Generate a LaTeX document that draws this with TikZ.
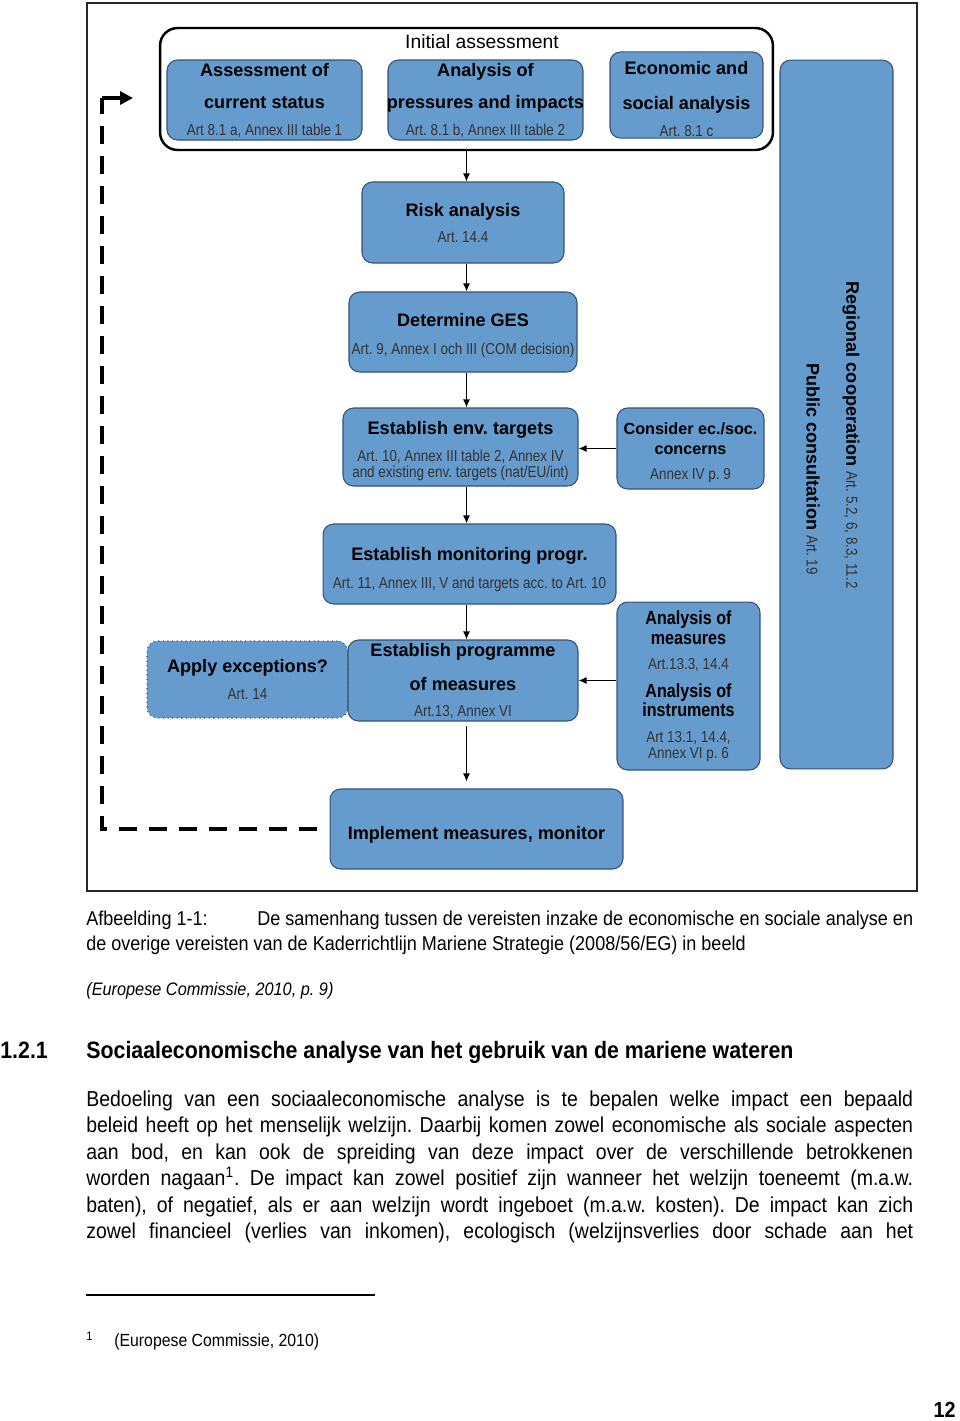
\documentclass[tikz,border=0pt]{standalone}
\usepackage{fontspec}
\setmainfont{Liberation Sans}
\newfontfamily\narrowfont[FakeStretch=0.85]{Liberation Sans}
\newfontfamily\docfont[FakeStretch=0.9]{Liberation Sans}
\usepackage{tikz}
\usetikzlibrary{positioning,arrows.meta}
\definecolor{boxblue}{RGB}{102,155,205}
\definecolor{boxline}{RGB}{52,82,120}
\frenchspacing
\setlength{\parindent}{0pt}
\newcommand{\ttl}{\fontsize{10.3}{12.5}\selectfont\bfseries}
\newcommand{\stl}{\fontsize{9.2}{12.5}\selectfont\bfseries}
\newcommand{\ntl}{\narrowfont\fontsize{10.8}{12.5}\selectfont\bfseries}
\newcommand{\artf}{\narrowfont\fontsize{9}{10}\selectfont\mdseries\color{black!80}}
\newcommand{\lowr}[1]{\rule{0pt}{#1}}

\begin{document}
\begin{tikzpicture}[x=0.02cm, y=-0.02cm,
    bx/.style={draw=boxline, fill=boxblue, rounded corners=6pt, line width=0.6pt,
               align=center, inner xsep=0pt, inner ysep=1pt, font=\ttl},
    grp/.style={draw, rounded corners=10pt, line width=1.4pt},
    ar/.style={-{Latex[length=1.6mm,width=1.4mm]}, line width=0.7pt},
    fb/.style={line width=2.2pt, dash pattern=on 0.36cm off 0.24cm},
    fbhead/.style={line width=2.2pt, -{Triangle[length=0.26cm,width=0.26cm]}},
    doc/.style={inner sep=0pt},
]
\useasboundingbox (0,0) rectangle (960,1421);
\fill[white] (0,0) rectangle (960,1421);

% --- frame ---
\draw[line width=0.8pt, black!85] (87,3) rectangle (917,891);

% === Initial assessment ===
\node[grp, minimum width=12.26cm, minimum height=2.44cm] (ia) at (466.5,89) {};
\node[font=\fontsize{11}{13}\selectfont] (iat) at (482,42) {Initial assessment};
\node[bx, minimum width=3.9cm, minimum height=1.6cm] (cur) at (264.5,100)
  {Assessment of\\[5.7pt]current status\\[2.9pt]{\artf Art 8.1 a, Annex III table 1}};
\node[bx, minimum width=3.9cm, minimum height=1.6cm] (prs) at (485.5,100)
  {Analysis of\\[5.7pt]\makebox[3.8cm]{pressures and impacts}\\[2.9pt]{\artf Art. 8.1 b, Annex III table 2}};
\node[bx, minimum width=3.06cm, minimum height=1.68cm] (eco) at (686.5,95)
  {\lowr{12.1pt}Economic and\\[6.9pt]social analysis\\[2.9pt]{\artf Art. 8.1 c}};

% === Side column ===
\node[bx, minimum width=2.26cm, minimum height=14.18cm] (reg) at (836.5,414.5) {};
\node[rotate=-90, font=\ttl] (regt) at (851,435) {Regional cooperation {\artf Art. 5.2, 6, 8.3, 11.2}};
\node[rotate=-90, font=\ttl] (pubt) at (813,469) {Public consultation {\artf Art. 19}};

% === Main chain ===
\node[bx, minimum width=4.04cm, minimum height=1.62cm] (risk) at (463,222.5)
  {Risk analysis\\[2.3pt]{\artf Art. 14.4}};
\node[bx, minimum width=4.56cm, minimum height=1.6cm] (ges) at (463,332)
  {\lowr{11.5pt}Determine GES\\[2.9pt]{\artf Art. 9, Annex I och III (COM decision)}};
\node[bx, minimum width=4.7cm, minimum height=1.56cm] (env) at (460.5,447)
  {\lowr{12.6pt}Establish env. targets\\[2.9pt]{\artf Art. 10, Annex III table 2, Annex IV}\\[-3.4pt]{\artf and existing env. targets (nat/EU/int)}};
\node[bx, minimum width=2.94cm, minimum height=1.62cm] (cons) at (690.5,448.5)
  {{\stl\lowr{11.3pt}Consider ec./soc.}\\[-1.1pt]{\stl concerns}\\[1.7pt]{\artf Annex IV p. 9}};
\node[bx, minimum width=5.86cm, minimum height=1.6cm] (mon) at (469.5,564)
  {\lowr{13.8pt}Establish monitoring progr.\\[2.9pt]{\artf Art. 11, Annex III, V and targets acc. to Art. 10}};
\node[bx, dotted, minimum width=4.02cm, minimum height=1.54cm] (exc) at (247.5,679.5)
  {Apply exceptions?\\[2.9pt]{\artf Art. 14}};
\node[bx, minimum width=4.6cm, minimum height=1.62cm] (pom) at (463,680.5)
  {Establish programme\\[6.9pt]of measures\\[2.3pt]{\artf Art.13, Annex VI}};
\node[bx, minimum width=2.86cm, minimum height=3.36cm] (ana) at (688.5,686)
  {{\ntl Analysis of}\\[-1.1pt]{\ntl measures}\\[1.7pt]{\artf Art.13.3, 14.4}\\[3.4pt]%
   {\ntl Analysis of}\\[-1.7pt]{\ntl instruments}\\[2.3pt]{\artf Art 13.1, 14.4,}\\[-3.4pt]{\artf Annex VI p. 6}};
\node[bx, minimum width=5.86cm, minimum height=1.6cm] (imp) at (476.5,829)
  {\lowr{14.3pt}Implement measures, monitor};

% --- Arrows ---
\draw[ar] (ia.south) -- (ia.south |- risk.north);
\draw[ar] (ia.south |- risk.south) -- (ia.south |- ges.north);
\draw[ar] (ia.south |- ges.south) -- (ia.south |- env.north);
\draw[ar] (ia.south |- env.south) -- (ia.south |- mon.north);
\draw[ar] (ia.south |- mon.south) -- (ia.south |- pom.north);
\draw[ar, shorten <=0.08cm, shorten >=0.14cm] (ia.south |- pom.south) -- (ia.south |- imp.north);
\draw[ar] (cons.west) -- (cons.west -| env.east);
\draw[ar] (ana.west |- pom.east) -- (pom.east);

% --- Feedback loop ---
\coordinate (fbturn) at (102,98);
\coordinate (fbend) at (133,98);
\draw[fb] ([xshift=-0.26cm]imp.west) -| (fbturn);
\draw[fbhead] (fbturn) -- (fbend);

% === Page text ===
\node[doc, anchor=north west, text width=16.54cm, align=justify,
      font=\docfont\fontsize{11.4}{14.2}\selectfont] (cap) at (86,911)
  {\makebox[3.42cm][l]{Afbeelding 1-1:}De samenhang tussen de vereisten inzake de economische en sociale analyse en\linebreak
   de overige vereisten van de Kaderrichtlijn Mariene Strategie (2008/56/EG) in beeld};
\node[doc, anchor=base west, font=\docfont\itshape\fontsize{10.3}{12}\selectfont] (src) at (86,995)
  {(Europese Commissie, 2010, p.~9)};
\node[doc, anchor=base west, font=\docfont\bfseries\fontsize{13.5}{16}\selectfont] (hnum) at (0,1058) {1.2.1};
\node[doc, anchor=base west, font=\docfont\bfseries\fontsize{13.5}{16}\selectfont] (htitle) at (86,1058)
  {Sociaaleconomische analyse van het gebruik van de mariene wateren};
\node[doc, anchor=north west, text width=16.54cm, align=justify,
      font=\docfont\fontsize{12.3}{15.1}\selectfont] (body) at (86,1090)
  {Bedoeling van een sociaaleconomische analyse is te bepalen welke impact een bepaald\linebreak
   beleid heeft op het menselijk welzijn. Daarbij komen zowel economische als sociale aspecten\linebreak
   aan bod, en kan ook de spreiding van deze impact over de verschillende betrokkenen\linebreak
   worden nagaan\textsuperscript{1}. De impact kan zowel positief zijn wanneer het welzijn toeneemt (m.a.w.\linebreak
   baten), of negatief, als er aan welzijn wordt ingeboet (m.a.w. kosten). De impact kan zich\linebreak
   zowel financieel (verlies van inkomen), ecologisch (welzijnsverlies door schade aan het\parfillskip=0pt\par};

% --- footnote ---
\draw[line width=0.6pt] (86,1295) -- (375,1295);
\node[doc, anchor=base west, font=\docfont\fontsize{7}{8}\selectfont] (fnmark) at (86,1340) {1};
\node[doc, anchor=base west, font=\docfont\fontsize{10}{12}\selectfont] (fntext) at (114,1346) {(Europese Commissie, 2010)};
\node[doc, anchor=base east, font=\docfont\bfseries\fontsize{12.5}{14}\selectfont] (pgnum) at (956,1417) {12};

\end{tikzpicture}
\end{document}
